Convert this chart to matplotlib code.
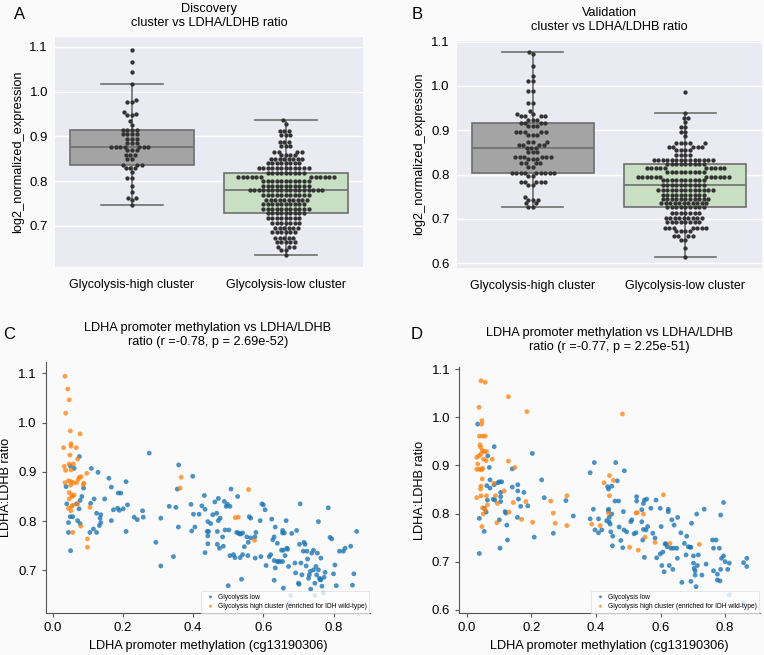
import numpy as np
import pandas as pd
import matplotlib
matplotlib.use('Agg')
import matplotlib.pyplot as plt
import seaborn as sns

plt.rcParams['font.family'] = ['Liberation Sans', 'DejaVu Sans']

categories = ['Glycolysis-high cluster', 'Glycolysis-low cluster']

# swarm data, read row by row: (value of the row, number of dots in it)
disc_high_levels = [1.094, 1.067, 1.044, 1.017, 0.981, 0.976, 0.955, 0.949, 0.948, 0.935, 0.926,
                    0.915, 0.905, 0.895, 0.885, 0.877, 0.869, 0.859, 0.850, 0.837, 0.829, 0.820,
                    0.807, 0.790, 0.776, 0.762, 0.757, 0.746]
disc_high_counts = [1, 1, 1, 1, 1, 2, 1, 1, 2, 1, 1, 4, 4, 3, 3, 7, 3, 3, 2, 3, 3, 1, 2, 1, 1, 2, 1, 1]

disc_low_levels = [0.936, 0.928, 0.912, 0.903, 0.888, 0.879, 0.866, 0.858, 0.849, 0.840, 0.829,
                   0.818, 0.808, 0.800, 0.789, 0.779, 0.769, 0.758, 0.749, 0.738, 0.728, 0.717,
                   0.706, 0.695, 0.686, 0.673, 0.664, 0.652, 0.645, 0.634]
disc_low_counts = [1, 1, 3, 3, 3, 3, 4, 4, 8, 8, 12, 9, 12, 11, 11, 17, 11, 10, 10, 11, 9, 8,
                   7, 6, 6, 5, 5, 3, 2, 1]

val_high_levels = [1.077, 1.073, 1.045, 1.022, 1.012, 0.989, 0.962, 0.944, 0.937, 0.931, 0.924,
                   0.916, 0.909, 0.895, 0.889, 0.874, 0.867, 0.861, 0.852, 0.840, 0.836, 0.826,
                   0.818, 0.804, 0.797, 0.784, 0.777, 0.750, 0.743, 0.735, 0.727]
val_high_counts = [1, 1, 1, 1, 2, 2, 2, 1, 2, 4, 3, 4, 3, 5, 3, 3, 4, 3, 3, 6, 3, 4, 2, 9, 2, 5,
                   2, 1, 3, 2, 2]

val_low_levels = [0.987, 0.940, 0.927, 0.918, 0.908, 0.897, 0.886, 0.871, 0.863, 0.856, 0.844,
                  0.833, 0.823, 0.814, 0.806, 0.795, 0.787, 0.777, 0.765, 0.755, 0.745, 0.735,
                  0.726, 0.714, 0.701, 0.692, 0.680, 0.672, 0.661, 0.653, 0.634, 0.615]
val_low_counts = [1, 1, 2, 1, 2, 2, 1, 5, 5, 4, 4, 14, 9, 10, 9, 12, 10, 10, 13, 10, 11, 11, 9, 7,
                  9, 8, 7, 4, 4, 2, 1, 1]

# scatter C (discovery): methylation x, LDHA:LDHB ratio y
c_low_x = [0.076, 0.275, 0.050, 0.061, 0.038, 0.088, 0.083, 0.040, 0.068, 0.078, 0.075, 0.050,
           0.057, 0.071, 0.045, 0.078, 0.045, 0.051, 0.110, 0.129, 0.108, 0.118, 0.125, 0.137,
           0.135, 0.137, 0.133, 0.116, 0.106, 0.125, 0.148, 0.160, 0.167, 0.173, 0.167, 0.187,
           0.194, 0.185, 0.190, 0.201, 0.209, 0.213, 0.209, 0.232, 0.241, 0.256, 0.258, 0.294,
           0.308, 0.308, 0.332, 0.344, 0.351, 0.355, 0.359, 0.358, 0.394, 0.399, 0.401, 0.396,
           0.405, 0.417, 0.425, 0.432, 0.434, 0.440, 0.442, 0.444, 0.442, 0.442, 0.434, 0.450,
           0.456, 0.462, 0.467, 0.469, 0.472, 0.472, 0.469, 0.477, 0.475, 0.484, 0.486, 0.489,
           0.494, 0.498, 0.491, 0.502, 0.505, 0.500, 0.508, 0.505, 0.515, 0.519, 0.524, 0.527,
           0.529, 0.532, 0.534, 0.536, 0.541, 0.538, 0.541, 0.546, 0.553, 0.557, 0.560, 0.564,
           0.556, 0.564, 0.576, 0.579, 0.577, 0.593, 0.591, 0.596, 0.600, 0.605, 0.608, 0.617,
           0.621, 0.624, 0.627, 0.631, 0.631, 0.631, 0.634, 0.634, 0.640, 0.640, 0.643, 0.648,
           0.652, 0.655, 0.655, 0.655, 0.657, 0.660, 0.662, 0.657, 0.665, 0.667, 0.669, 0.672,
           0.674, 0.681, 0.690, 0.692, 0.695, 0.700, 0.702, 0.705, 0.703, 0.707, 0.710, 0.714,
           0.716, 0.719, 0.722, 0.724, 0.726, 0.729, 0.731, 0.734, 0.735, 0.738, 0.743, 0.743,
           0.747, 0.750, 0.752, 0.754, 0.757, 0.757, 0.760, 0.762, 0.764, 0.764, 0.767, 0.771,
           0.773, 0.776, 0.785, 0.790, 0.795, 0.800, 0.804, 0.808, 0.817, 0.828, 0.833, 0.849,
           0.854, 0.858, 0.866, 0.747, 0.678]
c_low_y = [0.931, 0.938, 0.912, 0.907, 0.870, 0.867, 0.850, 0.835, 0.835, 0.842, 0.825, 0.809,
           0.809, 0.801, 0.797, 0.795, 0.777, 0.740, 0.907, 0.899, 0.836, 0.845, 0.816, 0.813,
           0.806, 0.797, 0.791, 0.784, 0.777, 0.777, 0.845, 0.887, 0.869, 0.823, 0.801, 0.857,
           0.857, 0.826, 0.822, 0.825, 0.880, 0.833, 0.779, 0.808, 0.803, 0.821, 0.808, 0.757,
           0.806, 0.709, 0.830, 0.728, 0.828, 0.865, 0.914, 0.788, 0.834, 0.891, 0.814, 0.780,
           0.788, 0.814, 0.831, 0.852, 0.824, 0.779, 0.799, 0.779, 0.770, 0.754, 0.736, 0.795,
           0.813, 0.839, 0.816, 0.753, 0.801, 0.846, 0.779, 0.806, 0.745, 0.768, 0.749, 0.840,
           0.830, 0.834, 0.782, 0.782, 0.730, 0.669, 0.865, 0.830, 0.732, 0.726, 0.777, 0.850,
           0.776, 0.774, 0.726, 0.774, 0.776, 0.682, 0.732, 0.748, 0.768, 0.757, 0.809, 0.806,
           0.730, 0.766, 0.768, 0.777, 0.725, 0.728, 0.801, 0.835, 0.833, 0.823, 0.710, 0.728,
           0.732, 0.804, 0.762, 0.768, 0.720, 0.680, 0.788, 0.705, 0.718, 0.755, 0.718, 0.718,
           0.741, 0.781, 0.776, 0.718, 0.741, 0.776, 0.730, 0.664, 0.801, 0.745, 0.743, 0.708,
           0.634, 0.775, 0.715, 0.695, 0.781, 0.674, 0.672, 0.835, 0.753, 0.715, 0.691, 0.739,
           0.757, 0.753, 0.709, 0.739, 0.723, 0.684, 0.691, 0.698, 0.662, 0.735, 0.741, 0.701,
           0.674, 0.708, 0.691, 0.735, 0.799, 0.701, 0.684, 0.681, 0.725, 0.681, 0.668, 0.654,
           0.686, 0.696, 0.827, 0.767, 0.764, 0.693, 0.711, 0.669, 0.739, 0.739, 0.745, 0.749,
           0.670, 0.693, 0.779, 0.649, 0.649]
c_high_x = [0.035, 0.043, 0.047, 0.037, 0.050, 0.078, 0.052, 0.031, 0.067, 0.052, 0.049, 0.071,
            0.033, 0.047, 0.059, 0.037, 0.052, 0.097, 0.076, 0.081, 0.045, 0.052, 0.059, 0.035,
            0.068, 0.089, 0.073, 0.087, 0.051, 0.047, 0.054, 0.061, 0.056, 0.047, 0.054, 0.071,
            0.045, 0.106, 0.052, 0.057, 0.080, 0.057, 0.099, 0.099, 0.366, 0.363, 0.558, 0.520,
            0.529, 0.575]
c_high_y = [1.094, 1.068, 1.046, 1.019, 0.983, 0.977, 0.957, 0.949, 0.949, 0.952, 0.934, 0.926,
            0.911, 0.916, 0.916, 0.903, 0.904, 0.897, 0.889, 0.890, 0.882, 0.880, 0.878, 0.878,
            0.878, 0.877, 0.885, 0.874, 0.873, 0.858, 0.853, 0.853, 0.850, 0.845, 0.830, 0.835,
            0.826, 0.828, 0.821, 0.832, 0.790, 0.777, 0.764, 0.747, 0.889, 0.867, 0.864, 0.807,
            0.808, 0.761]

# scatter D (validation)
d_low_x = [0.034, 0.085, 0.065, 0.070, 0.203, 0.232, 0.072, 0.062, 0.072, 0.085, 0.096, 0.101,
           0.108, 0.064, 0.082, 0.087, 0.054, 0.060, 0.054, 0.039, 0.039, 0.101, 0.105, 0.105,
           0.105, 0.119, 0.121, 0.124, 0.126, 0.103, 0.141, 0.141, 0.158, 0.158, 0.160, 0.157,
           0.167, 0.177, 0.189, 0.209, 0.240, 0.268, 0.307, 0.330, 0.382, 0.395, 0.392, 0.382,
           0.397, 0.408, 0.408, 0.418, 0.433, 0.436, 0.439, 0.449, 0.439, 0.439, 0.441, 0.441,
           0.444, 0.446, 0.449, 0.451, 0.452, 0.459, 0.461, 0.466, 0.470, 0.472, 0.477, 0.483,
           0.485, 0.488, 0.487, 0.495, 0.508, 0.511, 0.518, 0.524, 0.526, 0.526, 0.542, 0.542,
           0.545, 0.547, 0.550, 0.547, 0.555, 0.557, 0.560, 0.550, 0.570, 0.576, 0.586, 0.583,
           0.588, 0.599, 0.602, 0.599, 0.607, 0.604, 0.611, 0.614, 0.617, 0.621, 0.624, 0.624,
           0.627, 0.632, 0.635, 0.638, 0.640, 0.642, 0.650, 0.652, 0.653, 0.663, 0.666, 0.674,
           0.679, 0.681, 0.686, 0.691, 0.694, 0.696, 0.694, 0.702, 0.702, 0.704, 0.707, 0.707,
           0.710, 0.712, 0.717, 0.714, 0.728, 0.735, 0.741, 0.761, 0.764, 0.772, 0.764, 0.776,
           0.776, 0.782, 0.784, 0.786, 0.786, 0.789, 0.795, 0.795, 0.800, 0.808, 0.813, 0.813,
           0.857, 0.867, 0.867, 0.857]
d_low_y = [0.986, 0.939, 0.920, 0.896, 0.925, 0.870, 0.870, 0.858, 0.853, 0.860, 0.864, 0.866,
           0.866, 0.828, 0.830, 0.828, 0.811, 0.803, 0.763, 0.790, 0.717, 0.787, 0.835, 0.825,
           0.844, 0.804, 0.801, 0.776, 0.745, 0.728, 0.893, 0.855, 0.860, 0.847, 0.830, 0.792,
           0.815, 0.844, 0.816, 0.751, 0.833, 0.759, 0.827, 0.795, 0.885, 0.906, 0.809, 0.789,
           0.766, 0.760, 0.789, 0.766, 0.785, 0.856, 0.851, 0.857, 0.809, 0.806, 0.792, 0.782,
           0.778, 0.762, 0.799, 0.733, 0.753, 0.826, 0.906, 0.868, 0.826, 0.772, 0.744, 0.729,
           0.804, 0.889, 0.766, 0.762, 0.783, 0.787, 0.758, 0.760, 0.835, 0.826, 0.808, 0.783,
           0.745, 0.767, 0.828, 0.821, 0.766, 0.830, 0.773, 0.709, 0.811, 0.759, 0.828, 0.749,
           0.708, 0.811, 0.773, 0.716, 0.720, 0.692, 0.679, 0.737, 0.737, 0.731, 0.809, 0.804,
           0.692, 0.728, 0.787, 0.684, 0.728, 0.776, 0.728, 0.707, 0.792, 0.760, 0.657, 0.738,
           0.714, 0.753, 0.731, 0.730, 0.659, 0.780, 0.730, 0.712, 0.697, 0.686, 0.681, 0.672,
           0.648, 0.799, 0.714, 0.692, 0.672, 0.809, 0.695, 0.745, 0.728, 0.745, 0.681, 0.674,
           0.662, 0.728, 0.660, 0.684, 0.797, 0.707, 0.823, 0.712, 0.700, 0.684, 0.697, 0.631,
           0.698, 0.707, 0.690, 0.614]
d_high_x = [0.044, 0.057, 0.129, 0.038, 0.186, 0.047, 0.046, 0.039, 0.049, 0.057, 0.041, 0.043,
            0.048, 0.054, 0.061, 0.031, 0.038, 0.044, 0.052, 0.060, 0.079, 0.129, 0.034, 0.039,
            0.031, 0.046, 0.049, 0.149, 0.048, 0.044, 0.043, 0.084, 0.031, 0.044, 0.061, 0.089,
            0.095, 0.049, 0.057, 0.064, 0.051, 0.144, 0.116, 0.183, 0.131, 0.170, 0.093, 0.047,
            0.204, 0.260, 0.268, 0.274, 0.310, 0.310, 0.387, 0.413, 0.425, 0.442, 0.454, 0.442,
            0.439, 0.482, 0.524, 0.528, 0.547, 0.552, 0.504, 0.531, 0.583, 0.609, 0.629, 0.720]
d_high_y = [1.076, 1.073, 1.043, 1.021, 1.012, 0.993, 0.986, 0.961, 0.961, 0.961, 0.943, 0.938,
            0.931, 0.929, 0.929, 0.917, 0.920, 0.924, 0.913, 0.910, 0.913, 0.909, 0.903, 0.892,
            0.892, 0.891, 0.894, 0.896, 0.872, 0.857, 0.851, 0.863, 0.833, 0.837, 0.837, 0.837,
            0.821, 0.812, 0.808, 0.818, 0.799, 0.823, 0.847, 0.825, 0.803, 0.788, 0.781, 0.773,
            0.782, 0.826, 0.801, 0.780, 0.837, 0.775, 0.778, 0.775, 0.864, 0.879, 0.869, 0.837,
            0.801, 1.007, 0.801, 0.802, 0.799, 0.751, 0.730, 0.724, 0.740, 0.839, 0.738, 0.736]

fig = plt.figure(figsize=(7.64, 6.55), dpi=100, facecolor='#fafafa')

box_colors = ['#a4a4a4', '#c5e3bf']
line_gray = '#6f6f6f'
fs = 9.2


def swarm_panel(ax, high_lv, high_ct, low_lv, low_ct, title, ylim, yticks):
    df = pd.DataFrame({
        'group': [categories[0]] * sum(high_ct) + [categories[1]] * sum(low_ct),
        'value': np.concatenate([np.repeat(high_lv, high_ct), np.repeat(low_lv, low_ct)]),
    })
    ax.set_facecolor('#eaeaf2')
    ax.grid(True, axis='y', color='white', linewidth=1.0)
    ax.set_axisbelow(True)
    sns.boxplot(data=df, x='group', y='value', hue='group', order=categories,
                palette=box_colors, legend=False, showfliers=False, linewidth=1.2,
                linecolor=line_gray, ax=ax)
    sns.swarmplot(data=df, x='group', y='value', order=categories, color='#333333',
                  size=3.1, ax=ax)
    for s in ax.spines.values():
        s.set_visible(False)
    ax.set_ylim(*ylim)
    ax.set_yticks(yticks)
    ax.set_yticklabels([f'{t:.1f}' for t in yticks])
    ax.tick_params(length=0, labelsize=fs + 0.3, pad=5)
    ax.tick_params(axis='x', pad=9, labelsize=fs - 0.2)
    ax.set_xlabel('')
    ax.set_ylabel('log2_normalized_expression', fontsize=fs)
    ax.set_title(title, fontsize=fs, pad=8)


def scatter_panel(ax, lx, ly, hx, hy, title, xlim, ylim, yticks):
    ax.set_facecolor('#fafafa')
    ax.scatter(lx, ly, s=12, color='#1f77b4', alpha=0.8, edgecolors='none', label='Glycolysis low')
    ax.scatter(hx, hy, s=12, color='#ff7f0e', alpha=0.75, edgecolors='none',
               label='Glycolysis high cluster (enriched for IDH wild-type)')
    ax.set_xlim(*xlim)
    ax.set_ylim(*ylim)
    ax.set_yticks(yticks)
    ax.set_xticks([0.0, 0.2, 0.4, 0.6, 0.8])
    for side in ['top', 'right']:
        ax.spines[side].set_visible(False)
    for side in ['left', 'bottom']:
        ax.spines[side].set_color('#555555')
        ax.spines[side].set_linewidth(0.8)
    ax.tick_params(labelsize=fs + 0.3, length=3, width=0.8, color='#555555')
    ax.set_xlabel('LDHA promoter methylation (cg13190306)', fontsize=fs)
    ax.set_ylabel('LDHA:LDHB ratio', fontsize=fs)
    ax.set_title(title, fontsize=fs, pad=12)
    leg = ax.legend(loc='lower right', fontsize=4.8, markerscale=0.6, handletextpad=0.1,
                    borderpad=0.4, labelspacing=0.35, borderaxespad=0.1, fancybox=False)
    leg.get_frame().set_edgecolor('#dddddd')
    leg.get_frame().set_linewidth(0.6)


axA = fig.add_axes([0.072, 0.5924, 0.403, 0.3511])
swarm_panel(axA, disc_high_levels, disc_high_counts, disc_low_levels, disc_low_counts,
            'Discovery\ncluster vs LDHA/LDHB ratio', (0.608, 1.122), [0.7, 0.8, 0.9, 1.0, 1.1])

axB = fig.add_axes([0.5978, 0.5913, 0.3992, 0.3466])
swarm_panel(axB, val_high_levels, val_high_counts, val_low_levels, val_low_counts,
            'Validation\ncluster vs LDHA/LDHB ratio', (0.590, 1.102), [0.6, 0.7, 0.8, 0.9, 1.0, 1.1])

axC = fig.add_axes([0.0598, 0.0637, 0.4245, 0.3841])
scatter_panel(axC, c_low_x, c_low_y, c_high_x, c_high_y,
              'LDHA promoter methylation vs LDHA/LDHB\nratio (r =-0.78, p = 2.69e-52)',
              (-0.020, 0.904), (0.613, 1.1235), [0.7, 0.8, 0.9, 1.0, 1.1])

axD = fig.add_axes([0.6012, 0.0637, 0.3936, 0.3765])
scatter_panel(axD, d_low_x, d_low_y, d_high_x, d_high_y,
              'LDHA promoter methylation vs LDHA/LDHB\nratio (r =-0.77, p = 2.25e-51)',
              (-0.023, 0.908), (0.5927, 1.1054), [0.6, 0.7, 0.8, 0.9, 1.0, 1.1])

for lbl, x, y in [('A', 0.018, 0.978), ('B', 0.539, 0.978), ('C', 0.004, 0.49), ('D', 0.538, 0.49)]:
    fig.text(x, y, lbl, fontsize=12, va='center')

fig.savefig('out.png', dpi=100, facecolor=fig.get_facecolor())
